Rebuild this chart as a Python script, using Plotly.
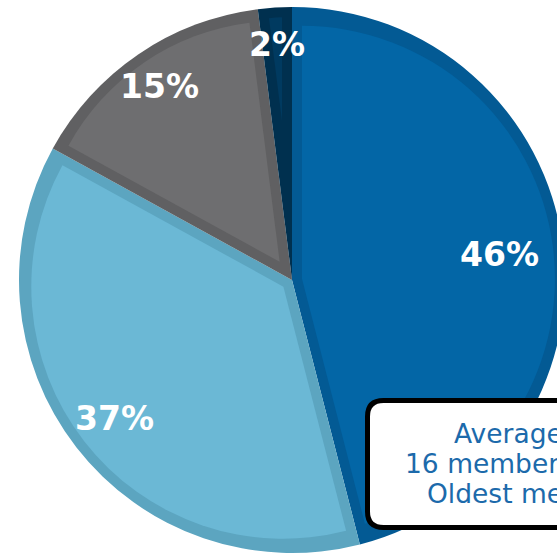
import math
import plotly.graph_objects as go

# ---- data ----
labels = ["46%", "37%", "15%", "2%"]
values = [46, 37, 15, 2]
fill_colors = ["#0366A6", "#6BB8D5", "#6E6E70", "#003A60"]
edge_colors = ["#035A94", "#5CA5C0", "#606062", "#00304F"]
box_lines = ["Average age: 58 years", "16 members in total", "Oldest member: 84"]

# ---- layout geometry (pixels) ----
W, H = 570, 554
CX, CY, R = 292, 280, 273
D = 10  # inset border width
label_frac = [0.767, 0.823, 0.862, 0.869]


def px(x):
    return x / W


def py(y):
    return 1 - y / H


total = sum(values)
traces = []
# base pie: border colours, full radius
traces.append(go.Pie(
    values=values, labels=labels, sort=False, direction="clockwise", rotation=0,
    marker=dict(colors=edge_colors, line=dict(width=0)),
    textinfo="none", hoverinfo="skip", showlegend=False,
    domain=dict(x=[px(CX - R), px(CX + R)], y=[py(CY + R), py(CY - R)]),
))

# inner pies: one per slice, inset by D
annotations = []
cum = 0
for i, v in enumerate(values):
    half = math.pi * v / total
    theta = 2 * math.pi * (cum + v / 2) / total
    s = D / math.sin(half)
    pxc = CX + s * math.sin(theta)
    pyc = CY - s * math.cos(theta)
    r2 = R - D - s
    traces.append(go.Pie(
        values=[v, total - v], sort=False, direction="clockwise",
        rotation=360 * cum / total,
        marker=dict(colors=[fill_colors[i], "rgba(0,0,0,0)"], line=dict(width=0)),
        textinfo="none", hoverinfo="skip", showlegend=False,
        domain=dict(x=[px(pxc - r2), px(pxc + r2)], y=[py(pyc + r2), py(pyc - r2)]),
    ))
    lx = CX + label_frac[i] * R * math.sin(theta)
    ly = CY - label_frac[i] * R * math.cos(theta)
    annotations.append(dict(
        x=px(lx), y=py(ly + 1), xref="paper", yref="paper", text=labels[i],
        showarrow=False, xanchor="center", yanchor="middle",
        font=dict(family="DejaVu Sans", size=33, color="white", weight="bold"),
    ))
    cum += v

fig = go.Figure(traces)

# text box
bl, bt, bb, br, rad = 367.5, 400.5, 527.5, 640, 16
path = (f"M {px(bl+rad)},{py(bt)} L {px(br)},{py(bt)} L {px(br)},{py(bb)} "
        f"L {px(bl+rad)},{py(bb)} Q {px(bl)},{py(bb)} {px(bl)},{py(bb-rad)} "
        f"L {px(bl)},{py(bt+rad)} Q {px(bl)},{py(bt)} {px(bl+rad)},{py(bt)} Z")
fig.add_shape(type="path", path=path, xref="paper", yref="paper",
              line=dict(color="black", width=5), fillcolor="white")

line_x = [454, 405, 427]
line_base = [442.7, 473.3, 502.7]
for t, x0, b in zip(box_lines, line_x, line_base):
    annotations.append(dict(
        x=px(x0 - 2), y=py(b - 9.5), xref="paper", yref="paper", text=t,
        showarrow=False, xanchor="left", yanchor="middle",
        font=dict(family="DejaVu Sans", size=26.5, color="#1C6AAB"),
    ))

fig.update_layout(
    width=W, height=H, autosize=False,
    margin=dict(l=0, r=0, t=0, b=0, pad=0),
    paper_bgcolor="white", plot_bgcolor="white",
    showlegend=False, annotations=annotations,
)

fig.write_html("out.html", config={"displayModeBar": False},
               post_script="document.body.style.margin='0';document.body.style.overflow='hidden';")
